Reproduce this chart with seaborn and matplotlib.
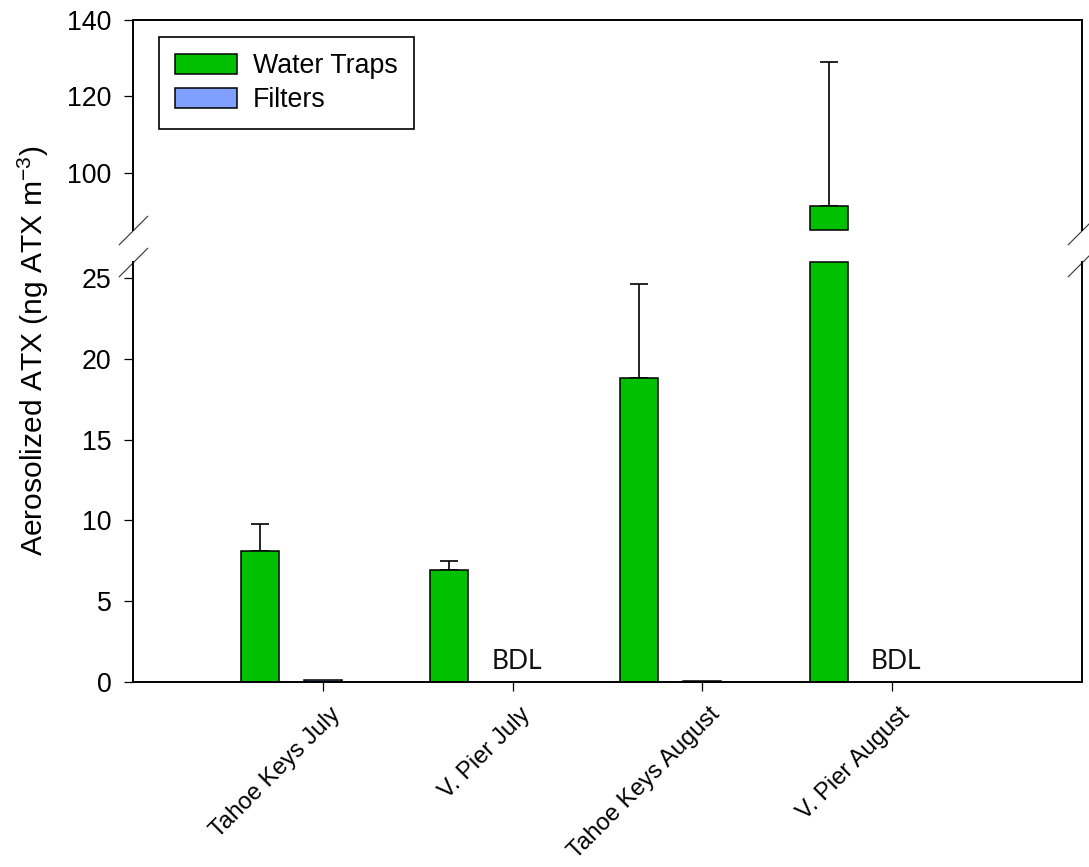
import numpy as np
import pandas as pd
import matplotlib
matplotlib.use("Agg")
import matplotlib.pyplot as plt
import matplotlib.transforms as mtransforms
from matplotlib.patches import Patch
import seaborn as sns

# ---------------- data ----------------
sites = ["Tahoe Keys July", "V. Pier July", "Tahoe Keys August", "V. Pier August"]
water_traps = [8.13, 6.91, 18.83, 91.3]
water_traps_err = [1.65, 0.58, 5.82, 37.7]
filters = [0.10, np.nan, 0.05, np.nan]          # NaN = below detection limit
filters_bdl = [False, True, False, True]
series_names = ["Water Traps", "Filters"]
lower_ticks = [0, 5, 10, 15, 20, 25]
upper_ticks = [100, 120, 140]
lower_lim = (0, 26)
upper_lim = (85, 140)

# ---------------- style ----------------
sns.set_style("ticks")
plt.rcParams["font.family"] = ["Liberation Sans", "DejaVu Sans"]
plt.rcParams["mathtext.fontset"] = "custom"
plt.rcParams["mathtext.rm"] = "Liberation Sans"
plt.rcParams["mathtext.it"] = "Liberation Sans:italic"
for k in ("text.color", "axes.labelcolor", "xtick.color", "ytick.color",
          "xtick.labelcolor", "ytick.labelcolor"):
    plt.rcParams[k] = "black"

GREEN = "#00C000"
BLUE = "#80A0FF"
palette = {"Water Traps": GREEN, "Filters": BLUE, "pad": "white"}
hue_order = ["Water Traps", "Filters", "pad"]
FS = 19.3

df = pd.DataFrame({
    "site": sites * 2,
    "value": water_traps + filters,
    "series": [series_names[0]] * len(sites) + [series_names[1]] * len(sites),
})

fig = plt.figure(figsize=(10.89, 8.67), dpi=100)
left, width = 133 / 1089, (1082 - 133) / 1089
ax_up = fig.add_axes([left, 1 - 230 / 867, width, (230 - 20) / 867])
ax_lo = fig.add_axes([left, 1 - 682 / 867, width, (682 - 262) / 867])

for ax, lim in ((ax_up, upper_lim), (ax_lo, lower_lim)):
    sns.barplot(data=df, x="site", y="value", hue="series", order=sites,
                hue_order=hue_order, palette=palette, saturation=1, width=1.0,
                edgecolor="black", linewidth=1.1, errorbar=None,
                legend=False, ax=ax, zorder=2)
    ax.set_xlim(-1, len(sites))
    ax.set_ylim(*lim)
    lo, hi = lim
    for p in list(ax.patches):
        h = p.get_height()
        if not np.isfinite(h):
            continue
        cx = p.get_x() + p.get_width() / 2
        p.set_width(0.2)
        p.set_x(cx - 0.1)
        y0, y1 = p.get_y(), p.get_y() + h
        ny0, ny1 = max(y0, lo), min(y1, hi)
        if ny1 <= ny0:
            p.set_visible(False)
        else:
            p.set_y(ny0)
            p.set_height(ny1 - ny0)
            p.set_clip_on(False)
    # error bars (upper only)
    xw = np.arange(len(sites)) - 1 / 3
    ax.errorbar(xw, water_traps, yerr=[np.zeros(len(sites)), water_traps_err],
                fmt="none", ecolor="black", elinewidth=1.2, capsize=6.8,
                capthick=1.2, zorder=1)
    for s in ax.spines.values():
        s.set_linewidth(1.4)
        s.set_color("black")
    ax.tick_params(axis="y", direction="out", length=6.5, width=0.9,
                   labelsize=FS, pad=9, colors="black")
    ax.set_ylabel("")
    ax.set_xlabel("")

# upper axis
ax_up.set_yticks(upper_ticks)
ax_up.spines["bottom"].set_visible(False)
ax_up.tick_params(axis="x", bottom=False, labelbottom=False)

# lower axis
ax_lo.set_yticks(lower_ticks)
ax_lo.spines["top"].set_visible(False)
ax_lo.tick_params(axis="x", direction="out", length=6.5, width=0.9,
                  labelsize=17.2, pad=9, colors="black")
ax_lo.set_xticks(range(len(sites)))
ax_lo.set_xticklabels(sites, rotation=45, ha="right", va="top",
                      rotation_mode="anchor")
off = mtransforms.ScaledTranslation(0.065, 0, fig.dpi_scale_trans)
for lab in ax_lo.get_xticklabels():
    lab.set_transform(lab.get_transform() + off)

# BDL markers
for i, bdl in enumerate(filters_bdl):
    if bdl:
        ax_lo.text(i + 0.02, 0.5, "BDL", ha="center", va="bottom",
                   fontsize=19, family=["Lato", "DejaVu Sans"], color="#111111")

# break marks
mk = dict(marker=[(-1, -1), (1, 1)], markersize=21, linestyle="none",
          color="#333333", mec="#333333", mew=0.8, clip_on=False)
ax_up.plot([0, 1], [0, 0], transform=ax_up.transAxes, **mk)
ax_lo.plot([0, 1], [1, 1], transform=ax_lo.transAxes, **mk)

# legend
handles = [Patch(facecolor=GREEN, edgecolor="black", linewidth=1.1),
           Patch(facecolor=BLUE, edgecolor="black", linewidth=1.1)]
leg = ax_up.legend(handles, series_names, loc="upper left",
                   bbox_to_anchor=(26 / 949, 1 - 17 / 210), borderaxespad=0,
                   frameon=True, fancybox=False, framealpha=1, edgecolor="black",
                   fontsize=FS, handlelength=2.3, handleheight=0.75,
                   handletextpad=0.6, borderpad=0.6, labelspacing=0.3)
leg.get_frame().set_linewidth(1.2)

fig.text(0.031, 1 - 351 / 867, "Aerosolized ATX (ng ATX m$^{-3}$)",
         rotation=90, ha="center", va="center", fontsize=21.6)

fig.savefig("out.png", dpi=100)
